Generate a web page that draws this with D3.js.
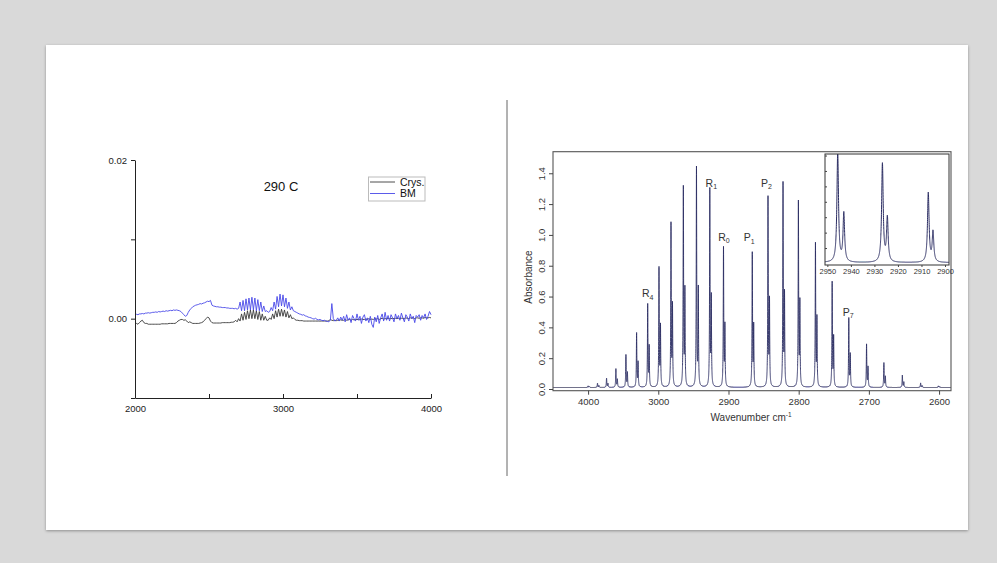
<!DOCTYPE html>
<html>
<head>
<meta charset="utf-8">
<script src="https://cdn.jsdelivr.net/npm/d3@7"></script>
<style>
  html, body { margin: 0; padding: 0; background: #d9d9d9; }
  svg { display: block; font-family: "Liberation Sans", Arial, sans-serif; }
</style>
</head>
<body>
<svg id="slide" width="997" height="563"></svg>
<script>
// ---------------- left panel: difference spectra (values in 10^-3) ----------------
const wnStart = 2000, wnStep = 10;
const crysMilli = [
  -0.6,-0.6,-0.7,-0.5,-0.3,-0.2,-0.5,-0.6,-0.6,-0.7,-0.7,
  -0.7,-0.7,-0.7,-0.7,-0.7,-0.7,-0.7,-0.65,-0.65,-0.65,
  -0.65,-0.65,-0.6,-0.6,-0.6,-0.6,-0.6,-0.5,-0.3,-0.2,
  -0.1,-0.1,-0.2,-0.15,-0.3,-0.5,-0.4,-0.5,-0.6,-0.6,
  -0.6,-0.6,-0.6,-0.55,-0.5,-0.4,-0.2,0.0,0.2,0.1,
  -0.3,-0.5,-0.55,-0.55,-0.55,-0.55,-0.55,-0.55,-0.5,-0.5,
  -0.5,-0.5,-0.5,-0.5,-0.45,-0.45,-0.4,-0.2,-0.4,0.0,
  -0.3,0.6,-0.2,0.8,-0.1,1.0,0.0,1.1,0.0,1.1,
  0.0,1.0,-0.1,0.9,-0.2,0.6,-0.2,0.3,-0.2,-0.2,
  0.1,-0.1,0.6,0.0,1.0,0.2,1.2,0.3,1.2,0.3,
  1.1,0.2,0.9,0.1,0.5,0.0,0.1,-0.1,-0.2,-0.2,
  -0.25,-0.25,-0.25,-0.3,-0.3,-0.3,-0.3,-0.3,-0.3,-0.3,
  -0.3,-0.3,-0.3,-0.3,-0.3,-0.3,-0.3,-0.3,-0.3,-0.3,
  -0.25,-0.1,-0.2,-0.25,-0.2,-0.25,-0.2,-0.2,-0.15,-0.2,
  -0.2,-0.1,-0.2,-0.15,-0.1,-0.2,-0.1,-0.15,-0.1,-0.1,
  -0.1,-0.15,-0.05,-0.1,-0.1,-0.05,-0.1,0.0,-0.1,-0.05,
  -0.1,0.0,-0.05,0.0,-0.1,0.0,0.05,-0.05,0.0,0.0,
  0.05,0.0,0.0,0.05,0.0,0.05,0.0,0.05,0.0,0.05,
  0.05,0.0,0.1,0.05,0.0,0.1,0.05,0.1,0.0,0.1,
  0.1,0.05,0.1,0.1,0.05,0.15,0.1,0.1,0.15,0.1
];
const bmMilli = [
  0.5,0.55,0.5,0.6,0.6,0.65,0.6,0.7,0.7,0.75,0.7,
  0.75,0.8,0.8,0.85,0.8,0.9,0.85,0.9,0.95,0.9,
  1.0,0.95,1.0,1.05,1.0,1.1,1.05,1.1,1.05,1.0,
  0.9,0.7,0.5,0.3,0.4,0.8,1.1,1.3,1.5,1.6,
  1.7,1.75,1.8,1.9,1.85,1.95,2.0,2.1,2.2,2.15,
  2.3,1.7,1.6,1.55,1.5,1.5,1.45,1.45,1.4,1.4,
  1.4,1.35,1.35,1.3,1.3,1.3,1.25,1.3,1.2,1.3,
  2.1,1.0,2.3,1.0,2.5,1.1,2.6,1.1,2.7,1.1,
  2.6,1.0,2.4,1.0,2.1,0.9,1.6,0.9,1.0,0.8,
  0.9,1.4,1.0,2.1,1.2,2.8,1.5,3.1,1.6,3.0,
  1.5,2.6,1.3,2.1,1.1,1.5,1.0,0.9,0.8,0.7,
  0.6,0.55,0.45,0.5,0.35,0.3,0.2,0.15,0.1,0.0,
  -0.05,0.05,-0.1,-0.15,-0.1,-0.2,-0.25,-0.2,-0.3,-0.35,
  -0.4,-0.2,1.9,0.0,-0.3,-0.2,0.1,-0.3,0.2,-0.2,
  0.3,-0.4,0.5,-0.2,0.1,-0.5,0.4,0.0,-0.3,0.6,
  -0.2,0.3,-0.6,0.2,0.5,-0.3,0.1,-0.5,0.3,-0.7,
  -1.1,0.2,-0.4,0.4,-0.6,0.1,0.6,-0.3,0.8,-0.2,
  0.4,-0.3,0.5,0.1,-0.4,0.6,0.0,0.4,-0.2,0.7,
  0.1,-0.4,0.5,0.2,-0.3,0.6,0.0,0.3,-0.5,0.4,
  0.2,0.5,-0.2,0.4,0.1,0.6,-0.1,0.3,0.9,0.5
];
const seriesNames = ["Crys.", "BM"];
const leftTitle = "290 C";
const leftYTicks = [-0.01, 0, 0.01, 0.02];
const leftYLabels = ["", "0.00", "", "0.02"];
const leftXTicks = [2000, 2500, 3000, 3500, 4000];
const leftXLabels = ["2000", "", "3000", "", "4000"];

// ---------------- right panel: rotational lines (cm^-1, peak absorbance) ----------------
const linePos = [3100.0,3086.6,3073.7,3060.4,3046.1,3030.9,3015.1,2999.0,2981.9,2964.3,
                 2945.6,2926.6,2907.1,2866.1,2843.7,2822.3,2800.4,2776.1,2752.3,2728.6,
                 2703.3,2678.6,2652.3,2626.3,2601.0];
const lineHeight = [0.02,0.037,0.069,0.13,0.22,0.36,0.545,0.78,1.065,1.30,
                    1.43,1.286,0.91,0.875,1.234,1.325,1.206,0.937,0.688,0.456,
                    0.288,0.169,0.089,0.039,0.02];
// weaker partner line on the low-wavenumber side of each transition
const partnerPos = [3098.0,3084.6,3071.7,3058.3,3044.0,3028.8,3013.0,2996.9,2979.8,2962.1,
                    2943.0,2924.5,2905.1,2864.1,2841.6,2820.2,2798.3,2774.0,2750.2,2726.5,
                    2701.2,2676.5,2650.2,2624.2,2599.0];
const partnerHeight = [0.015,0.022,0.035,0.062,0.105,0.17,0.27,0.40,0.53,0.63,
                       0.64,0.58,0.40,0.40,0.56,0.60,0.55,0.45,0.33,0.22,
                       0.14,0.08,0.045,0.022,0.015];
const baselineAbs = 0.01;
const lineHalfWidth = 0.4;
const rightXTicks = [3100, 3000, 2900, 2800, 2700, 2600];
const rightXLabels = ["4000", "3000", "2900", "2800", "2700", "2600"];
const rightYTicks = [0, 0.2, 0.4, 0.6, 0.8, 1.0, 1.2, 1.4];
const insetXTicks = [2950, 2940, 2930, 2920, 2910, 2900];
const insetYTicks = [0.2, 0.4, 0.6, 0.8, 1.0, 1.2, 1.4];
const branchNames = ["R", "R", "R", "P", "P", "P"];
const branchIndex = ["4", "1", "0", "1", "2", "7"];
const branchLine = [6, 11, 12, 13, 14, 19];
const xLabel = "Wavenumber cm";
const yLabel = "Absorbance";

// ---------------- layout ----------------
const svg = d3.select("#slide");
const defs = svg.append("defs");
const shadow = defs.append("filter").attr("id", "shadow")
  .attr("x", "-5%").attr("y", "-5%").attr("width", "110%").attr("height", "110%");
shadow.append("feDropShadow").attr("dx", 0).attr("dy", 1).attr("stdDeviation", 1.6)
  .attr("flood-color", "#000").attr("flood-opacity", 0.35);

svg.append("rect").attr("x", 46).attr("y", 45).attr("width", 922).attr("height", 485)
  .attr("fill", "#fff").attr("filter", "url(#shadow)");

// divider between the two panels
svg.append("line").attr("x1", 507).attr("x2", 507).attr("y1", 100).attr("y2", 476)
  .attr("stroke", "#666").attr("stroke-width", 1);

// ===== left panel =====
const xL = d3.scaleLinear().domain([2000, 4000]).range([135, 431]);
const yL = d3.scaleLinear().domain([-0.01, 0.02]).range([398, 160]);
const gL = svg.append("g");

const lineL = d3.line()
  .x((d, i) => xL(wnStart + i * wnStep))
  .y(d => yL(d / 1000));

gL.append("path").datum(crysMilli).attr("d", lineL)
  .attr("fill", "none").attr("stroke", "#3a3a3a").attr("stroke-width", 0.9);
gL.append("path").datum(bmMilli).attr("d", lineL)
  .attr("fill", "none").attr("stroke", "#4848e8").attr("stroke-width", 0.9);

const yAxisL = gL.append("g").attr("transform", "translate(135,0)")
  .call(d3.axisLeft(yL).tickValues(leftYTicks).tickSize(4).tickSizeOuter(0).tickPadding(4)
    .tickFormat((d, i) => leftYLabels[i]));
const xAxisL = gL.append("g").attr("transform", "translate(0,398)")
  .call(d3.axisBottom(xL).tickValues(leftXTicks).tickSizeInner(-4).tickSizeOuter(0).tickPadding(7)
    .tickFormat((d, i) => leftXLabels[i]));
[yAxisL, xAxisL].forEach(a => {
  a.selectAll("path,line").attr("stroke", "#222");
  a.selectAll("text").attr("fill", "#222").style("font-size", "9.5px");
});

gL.append("text").attr("x", 281).attr("y", 191).attr("text-anchor", "middle")
  .style("font-size", "13px").attr("fill", "#111").text(leftTitle);

// legend
const leg = gL.append("g");
leg.append("rect").attr("x", 368.5).attr("y", 177).attr("width", 56.5).attr("height", 24)
  .attr("fill", "#fff").attr("stroke", "#bbb").attr("stroke-width", 1);
const legColors = ["#3a3a3a", "#4848e8"];
seriesNames.forEach((name, i) => {
  const ly = 182 + i * 11.5;
  leg.append("line").attr("x1", 370).attr("x2", 395).attr("y1", ly).attr("y2", ly)
    .attr("stroke", legColors[i]).attr("stroke-width", 0.9);
  leg.append("text").attr("x", 400).attr("y", ly + 3.8)
    .style("font-size", "10.5px").attr("fill", "#111").text(name);
});

// ===== right panel =====
const xR = d3.scaleLinear().domain([3150, 2583]).range([553, 951]);
const yR = d3.scaleLinear().domain([-0.011, 1.54]).range([390.7, 151.7]);
const gR = svg.append("g");

// each line is a Lorentzian rising from the baseline to its listed peak absorbance
const components = linePos.map((p, i) => ({p, a: lineHeight[i] - baselineAbs}))
  .concat(partnerPos.map((p, i) => ({p, a: partnerHeight[i] - baselineAbs})));
const g2 = lineHalfWidth * lineHalfWidth;
function absorbance(wn) {
  let s = baselineAbs;
  for (const c of components) s += c.a * g2 / ((wn - c.p) * (wn - c.p) + g2);
  return s;
}
function sampleGrid(lo, hi, step) {
  const pts = d3.range(lo, hi, step).concat(linePos, partnerPos)
    .filter(v => v >= lo && v <= hi);
  return pts.sort((a, b) => a - b).map(w => [w, absorbance(w)]);
}

defs.append("clipPath").attr("id", "mainClip").append("rect")
  .attr("x", 553).attr("y", 151.7).attr("width", 398).attr("height", 239);
gR.append("path").datum(sampleGrid(2583, 3150, 0.04))
  .attr("clip-path", "url(#mainClip)")
  .attr("d", d3.line().x(d => xR(d[0])).y(d => yR(d[1])))
  .attr("fill", "none").attr("stroke", "#2a2c62").attr("stroke-width", 0.9);

gR.append("rect").attr("x", 553).attr("y", 151.7).attr("width", 398).attr("height", 239)
  .attr("fill", "none").attr("stroke", "#555").attr("stroke-width", 1.1);

const xAxisR = gR.append("g").attr("transform", "translate(0,390.7)")
  .call(d3.axisBottom(xR).tickValues(rightXTicks).tickSize(4).tickSizeOuter(0).tickPadding(4)
    .tickFormat((d, i) => rightXLabels[i]));
xAxisR.select(".domain").remove();
const yAxisR = gR.append("g").attr("transform", "translate(553,0)")
  .call(d3.axisLeft(yR).tickValues(rightYTicks).tickSize(4).tickSizeOuter(0).tickFormat(d3.format(".1f")));
yAxisR.select(".domain").remove();
yAxisR.selectAll("text").attr("x", null).attr("y", 0).attr("dy", null)
  .attr("text-anchor", "middle")
  .attr("transform", "translate(-8,0) rotate(-90)");
[xAxisR, yAxisR].forEach(a => {
  a.selectAll("line").attr("stroke", "#444");
  a.selectAll("text").attr("fill", "#333").style("font-size", "9.5px");
});

gR.append("text").attr("transform", "translate(532,277) rotate(-90)")
  .attr("text-anchor", "middle").style("font-size", "10px").attr("fill", "#333").text(yLabel);
const xt = gR.append("text").attr("x", 751).attr("y", 421).attr("text-anchor", "middle")
  .style("font-size", "10px").attr("fill", "#333").text(xLabel);
xt.append("tspan").attr("dy", -4).style("font-size", "6.5px").text("-1");

// branch labels above selected lines
const labelShift = [[0, -8], [1.5, -4], [0.5, -8], [-3, -13], [-1.5, -12], [-0.5, -3]];
branchNames.forEach((b, i) => {
  const k = branchLine[i];
  const t = gR.append("text")
    .attr("x", xR(linePos[k]) + labelShift[i][0])
    .attr("y", yR(lineHeight[k]) + labelShift[i][1])
    .attr("text-anchor", "middle").style("font-size", "10.5px").attr("fill", "#333")
    .text(b);
  t.append("tspan").attr("dy", 2.5).style("font-size", "7px").text(branchIndex[i]);
});

// ===== inset: expanded view of three lines =====
const xI = d3.scaleLinear().domain([2951, 2898.3]).range([825, 949]);
const yI = d3.scaleLinear().domain([-0.02, 1.42]).range([265, 154]);
const gI = svg.append("g");
gI.append("rect").attr("x", 825).attr("y", 154).attr("width", 124).attr("height", 111)
  .attr("fill", "#fff");
defs.append("clipPath").attr("id", "insetClip").append("rect")
  .attr("x", 825).attr("y", 154).attr("width", 124).attr("height", 111);
gI.append("path").datum(sampleGrid(2898.3, 2951, 0.02))
  .attr("clip-path", "url(#insetClip)")
  .attr("d", d3.line().x(d => xI(d[0])).y(d => yI(d[1])))
  .attr("fill", "none").attr("stroke", "#2a2c62").attr("stroke-width", 1);
gI.append("rect").attr("x", 825).attr("y", 154).attr("width", 124).attr("height", 111)
  .attr("fill", "none").attr("stroke", "#333").attr("stroke-width", 1);
const xAxisI = gI.append("g").attr("transform", "translate(0,265)")
  .call(d3.axisBottom(xI).tickValues(insetXTicks).tickSize(2).tickSizeOuter(0).tickPadding(2)
    .tickFormat(d3.format("d")));
xAxisI.select(".domain").remove();
const yAxisI = gI.append("g").attr("transform", "translate(825,0)")
  .call(d3.axisRight(yI).tickValues(insetYTicks).tickSize(2).tickSizeOuter(0).tickFormat(""));
yAxisI.select(".domain").remove();
[xAxisI, yAxisI].forEach(a => {
  a.selectAll("line").attr("stroke", "#444");
  a.selectAll("text").attr("fill", "#333").style("font-size", "7.5px");
});
</script>
</body>
</html>
